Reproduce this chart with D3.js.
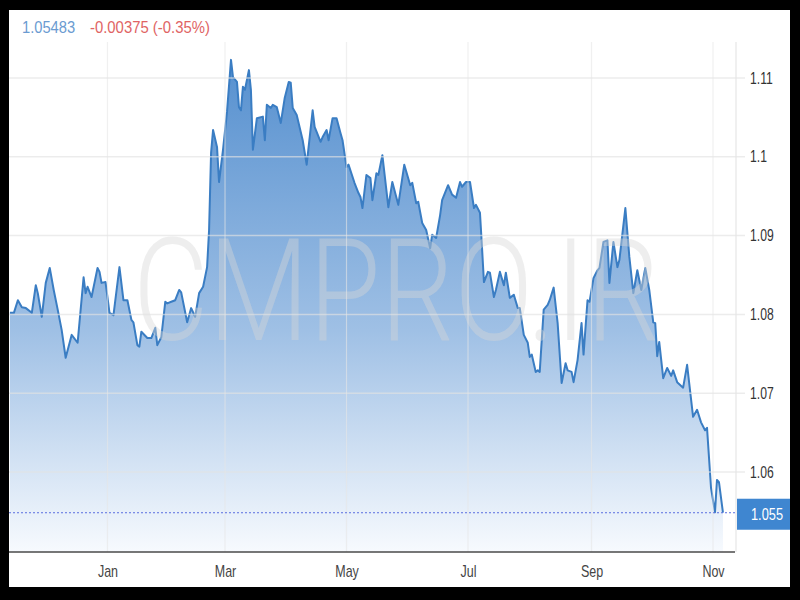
<!DOCTYPE html>
<html><head><meta charset="utf-8">
<script src="https://cdn.jsdelivr.net/npm/d3@7"></script>
<style>html,body{margin:0;padding:0;background:#000;} svg{display:block;}</style>
</head><body>
<svg id="chart" width="800" height="600"></svg>
<script>
const dates = [
"2016-11-13","2016-11-15","2016-11-17","2016-11-19","2016-11-21","2016-11-24","2016-11-26","2016-11-27","2016-11-29","2016-12-01",
"2016-12-03","2016-12-05","2016-12-07","2016-12-09","2016-12-11","2016-12-14","2016-12-17","2016-12-20","2016-12-21","2016-12-22",
"2016-12-24","2016-12-27","2016-12-28","2016-12-29","2016-12-31","2017-01-02","2017-01-04","2017-01-07","2017-01-09","2017-01-11",
"2017-01-13","2017-01-14","2017-01-16","2017-01-17","2017-01-18","2017-01-21","2017-01-23","2017-01-25","2017-01-26","2017-01-28",
"2017-01-30","2017-01-31","2017-02-02","2017-02-04","2017-02-06","2017-02-07","2017-02-10","2017-02-12","2017-02-14","2017-02-16",
"2017-02-18","2017-02-20","2017-02-21","2017-02-22","2017-02-23","2017-02-25","2017-02-26","2017-02-28","2017-03-02","2017-03-04",
"2017-03-05","2017-03-07","2017-03-08","2017-03-09","2017-03-10","2017-03-11","2017-03-13","2017-03-14","2017-03-15","2017-03-17",
"2017-03-20","2017-03-21","2017-03-22","2017-03-24","2017-03-25","2017-03-27","2017-03-29","2017-03-31","2017-04-02","2017-04-03",
"2017-04-04","2017-04-06","2017-04-09","2017-04-11","2017-04-14","2017-04-15","2017-04-18","2017-04-19","2017-04-21","2017-04-22",
"2017-04-24","2017-04-26","2017-04-28","2017-04-29","2017-05-01","2017-05-02","2017-05-05","2017-05-07","2017-05-08","2017-05-09",
"2017-05-11","2017-05-13","2017-05-14","2017-05-16","2017-05-17","2017-05-19","2017-05-22","2017-05-24","2017-05-27","2017-05-30",
"2017-06-02","2017-06-03","2017-06-05","2017-06-06","2017-06-08","2017-06-10","2017-06-12","2017-06-13","2017-06-15","2017-06-17",
"2017-06-18","2017-06-21","2017-06-23","2017-06-25","2017-06-27","2017-06-28","2017-06-30","2017-07-02","2017-07-04","2017-07-05",
"2017-07-07","2017-07-08","2017-07-09","2017-07-11","2017-07-12","2017-07-14","2017-07-15","2017-07-17","2017-07-19","2017-07-20",
"2017-07-22","2017-07-24","2017-07-26","2017-07-27","2017-07-29","2017-07-31","2017-08-01","2017-08-02","2017-08-04","2017-08-05",
"2017-08-06","2017-08-08","2017-08-10","2017-08-11","2017-08-13","2017-08-15","2017-08-17","2017-08-19","2017-08-20","2017-08-22",
"2017-08-23","2017-08-25","2017-08-27","2017-08-28","2017-08-30","2017-08-31","2017-09-02","2017-09-04","2017-09-05","2017-09-07",
"2017-09-09","2017-09-10","2017-09-12","2017-09-14","2017-09-15","2017-09-18","2017-09-20","2017-09-22","2017-09-24","2017-09-26",
"2017-09-28","2017-09-30","2017-10-02","2017-10-03","2017-10-04","2017-10-05","2017-10-07","2017-10-09","2017-10-11","2017-10-12",
"2017-10-14","2017-10-17","2017-10-19","2017-10-22","2017-10-24","2017-10-26","2017-10-28","2017-10-29","2017-10-31","2017-11-02",
"2017-11-03","2017-11-04","2017-11-06"
];
const values = [
1.0802,1.0802,1.0818,1.0809,1.0808,1.0802,1.0837,1.0827,1.0797,1.0840,
1.0859,1.0831,1.0806,1.0780,1.0745,1.0774,1.0764,1.0847,1.0827,1.0835,
1.0822,1.0859,1.0854,1.0840,1.0841,1.0802,1.0799,1.0860,1.0818,1.0818,
1.0793,1.0790,1.0761,1.0759,1.0778,1.0770,1.0770,1.0783,1.0761,1.0771,
1.0816,1.0814,1.0816,1.0818,1.0831,1.0828,1.0790,1.0808,1.0797,1.0827,
1.0835,1.0860,1.0907,1.1005,1.1034,1.1012,1.0968,1.1009,1.1057,1.1123,
1.1101,1.1095,1.1063,1.1059,1.1089,1.1085,1.1110,1.1085,1.1009,1.1049,
1.1051,1.1021,1.1066,1.1062,1.1066,1.1063,1.1043,1.1075,1.1095,1.1094,
1.1062,1.1053,1.1021,1.0990,1.1059,1.1038,1.1019,1.1025,1.1034,1.1021,
1.1049,1.1049,1.1030,1.1021,1.0987,1.0990,1.0967,1.0954,1.0949,1.0935,
1.0977,1.0973,1.0945,1.0979,1.0977,1.1002,1.0936,1.0968,1.0939,1.0990,
1.0964,1.0967,1.0941,1.0943,1.0916,1.0907,1.0884,1.0901,1.0897,1.0926,
1.0945,1.0964,1.0952,1.0948,1.0968,1.0962,1.0968,1.0968,1.0935,1.0939,
1.0929,1.0886,1.0841,1.0854,1.0853,1.0822,1.0831,1.0854,1.0837,1.0853,
1.0821,1.0825,1.0808,1.0808,1.0774,1.0764,1.0746,1.0749,1.0727,1.0729,
1.0727,1.0806,1.0812,1.0818,1.0834,1.0789,1.0713,1.0738,1.0729,1.0727,
1.0714,1.0742,1.0789,1.0749,1.0818,1.0816,1.0846,1.0856,1.0859,1.0892,
1.0894,1.0840,1.0892,1.0860,1.0869,1.0935,1.0873,1.0827,1.0856,1.0831,
1.0859,1.0831,1.0790,1.0789,1.0747,1.0765,1.0719,1.0732,1.0722,1.0729,
1.0714,1.0707,1.0736,1.0670,1.0679,1.0663,1.0653,1.0656,1.0580,1.0549,
1.0590,1.0587,1.05483
];
const yTicks = [1.06, 1.07, 1.08, 1.09, 1.1, 1.11];
const yTickLabels = ["1.06", "1.07", "1.08", "1.09", "1.1", "1.11"];
const monthTicks = ["2017-01-01", "2017-03-01", "2017-05-01", "2017-07-01", "2017-09-01", "2017-11-01"];
const monthLabels = ["Jan", "Mar", "May", "Jul", "Sep", "Nov"];
const lastPriceText = "1.05483";
const changeText = "-0.00375 (-0.35%)";
const watermarkText = "CMPRO.IR";

const parse = d3.utcParse("%Y-%m-%d");
const data = dates.map((d, i) => ({date: parse(d), value: values[i]}));
const last = data[data.length - 1];

const svg = d3.select("#chart");
const font = "'Liberation Sans', Arial, sans-serif";

svg.append("rect").attr("width", 800).attr("height", 600).attr("fill", "#000");
svg.append("rect").attr("x", 9).attr("y", 10).attr("width", 781).attr("height", 577).attr("fill", "#fff");

const plotL = 9, plotR = 736, plotT = 42, plotB = 552;
const x = d3.scaleUtc().domain([parse("2017-01-01"), parse("2017-11-01")]).range([107.5, 713]);
const y = d3.scaleLinear().domain([1.06, 1.11]).range([472, 78]);

const defs = svg.append("defs");
const grad = defs.append("linearGradient").attr("id", "fillGrad")
  .attr("gradientUnits", "userSpaceOnUse").attr("x1", 0).attr("x2", 0).attr("y1", 60).attr("y2", plotB);
grad.append("stop").attr("offset", "0").attr("stop-color", "#5690cf");
grad.append("stop").attr("offset", "0.55").attr("stop-color", "#9fc0e5");
grad.append("stop").attr("offset", "1").attr("stop-color", "#f7fafe");
defs.append("clipPath").attr("id", "plotClip").append("rect")
  .attr("x", plotL).attr("y", 10).attr("width", plotR - plotL).attr("height", plotB - 10);

const plot = svg.append("g").attr("clip-path", "url(#plotClip)");

const area = d3.area().x(d => x(d.date)).y0(plotB).y1(d => y(d.value));
const line = d3.line().x(d => x(d.date)).y(d => y(d.value));

plot.append("path").datum(data).attr("d", area).attr("fill", "url(#fillGrad)");

// watermark (scaled horizontally to its measured width)
const wm = svg.append("text")
  .attr("font-family", "Roboto, 'Liberation Sans', sans-serif").attr("font-weight", 300)
  .attr("font-size", 142).attr("fill", "#d6d6d6").attr("fill-opacity", 0.42).text(watermarkText);
const wmLen = wm.node().getComputedTextLength() || 527;
wm.attr("transform", `translate(133,340) scale(${527 / wmLen},1)`);

// grid
const grid = svg.append("g");
grid.selectAll("line.h").data(yTicks).join("line").attr("class", "h")
  .attr("x1", plotL).attr("x2", 745).attr("y1", d => y(d)).attr("y2", d => y(d))
  .attr("stroke", "#e2e2e2").attr("stroke-opacity", 0.65).attr("stroke-width", 1.5);
grid.selectAll("line.v").data(monthTicks.map(parse)).join("line").attr("class", "v")
  .attr("x1", d => x(d)).attr("x2", d => x(d)).attr("y1", plotT).attr("y2", plotB)
  .attr("stroke", "#e6e6e6").attr("stroke-opacity", 0.6).attr("stroke-width", 1.2);
grid.append("line").attr("x1", plotR).attr("x2", plotR).attr("y1", plotT).attr("y2", plotB)
  .attr("stroke", "#e6e6e6").attr("stroke-width", 1.2);

plot.append("path").datum(data).attr("d", line).attr("fill", "none")
  .attr("stroke", "#3a7dc3").attr("stroke-width", 2).attr("stroke-linejoin", "round");

// last price line and label
const ly = y(last.value);
svg.append("line").attr("x1", plotL).attr("x2", 737).attr("y1", ly).attr("y2", ly)
  .attr("stroke", "#5a6ee0").attr("stroke-width", 1).attr("stroke-dasharray", "2,2");
svg.append("rect").attr("x", 737).attr("y", ly - 14).attr("width", 53).attr("height", 31).attr("fill", "#3f86d0");
svg.append("text").attr("transform", `translate(767,${ly + 1.5}) scale(0.8,1)`)
  .attr("text-anchor", "middle").attr("dy", "0.35em").attr("font-family", font).attr("font-size", 16)
  .attr("fill", "#fff").text(d3.format(".3f")(last.value));

// x-axis line
svg.append("line").attr("x1", plotL).attr("x2", 735).attr("y1", plotB).attr("y2", plotB)
  .attr("stroke", "#4a4a4a").attr("stroke-width", 1.6);

// axes
const xAxis = d3.axisBottom(x).tickValues(monthTicks.map(parse))
  .tickFormat((d, i) => monthLabels[i]).tickSize(0).tickPadding(14);
const gx = svg.append("g").attr("transform", `translate(0,${plotB})`).call(xAxis);
gx.select(".domain").remove();
gx.selectAll("text").attr("font-family", font).attr("font-size", 16).attr("fill", "#444")
  .attr("transform", "scale(0.78,1)");

const yAxis = d3.axisRight(y).tickValues(yTicks).tickFormat((d, i) => yTickLabels[i]).tickSize(0).tickPadding(0);
const gy = svg.append("g").attr("transform", "translate(750,0)").call(yAxis);
gy.select(".domain").remove();
gy.selectAll("text").attr("font-family", font).attr("font-size", 16).attr("fill", "#333")
  .attr("transform", "scale(0.76,1)");

// header
svg.append("text").attr("transform", "translate(22,33) scale(0.92,1)")
  .attr("font-family", font).attr("font-size", 16).attr("fill", "#6b9bd1").text(lastPriceText);
svg.append("text").attr("transform", "translate(90,33) scale(0.93,1)")
  .attr("font-family", font).attr("font-size", 16).attr("fill", "#e06464").text(changeText);
</script>
</body></html>
